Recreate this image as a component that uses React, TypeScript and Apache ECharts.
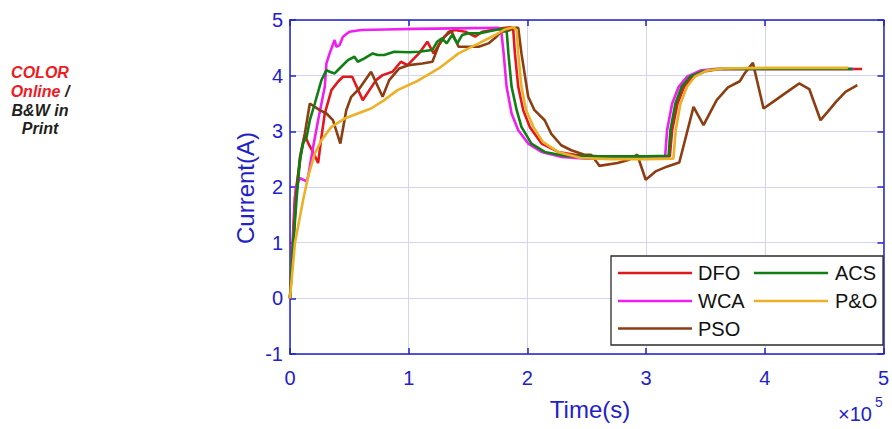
import React, { useEffect, useRef } from "react";
import * as echarts from "echarts";

// Time in units of 1e5 s, current in A
const xTicks = [0, 1, 2, 3, 4, 5];
const yTicks = [-1, 0, 1, 2, 3, 4, 5];

const dfoT = [0, 0.04, 0.097, 0.125, 0.153, 0.2, 0.237, 0.265, 0.293, 0.349, 0.404, 0.446, 0.524, 0.613, 0.725, 0.78, 0.864, 0.934, 0.99, 1.087, 1.157, 1.21, 1.28, 1.338, 1.39, 1.477, 1.56, 1.62, 1.7, 1.78, 1.86, 1.88, 1.895, 1.923, 1.965, 2.02, 2.12, 2.26, 2.4, 2.6, 3.0, 3.2, 3.22, 3.265, 3.32, 3.39, 3.5, 3.62, 4.0, 4.82];
const dfoV = [0, 1.8, 2.66, 2.93, 2.79, 2.6, 2.43, 2.9, 3.32, 3.74, 3.89, 3.98, 3.98, 3.56, 3.92, 4.01, 4.07, 4.25, 4.19, 4.4, 4.61, 4.4, 4.64, 4.79, 4.82, 4.79, 4.7, 4.79, 4.82, 4.85, 4.87, 4.85, 4.4, 3.8, 3.38, 3.08, 2.78, 2.63, 2.58, 2.55, 2.55, 2.55, 3.02, 3.5, 3.8, 3.98, 4.08, 4.12, 4.12, 4.12];

const wcaT = [0, 0.05, 0.084, 0.14, 0.153, 0.195, 0.237, 0.293, 0.307, 0.334, 0.376, 0.39, 0.418, 0.446, 0.5, 0.6, 0.8, 1.045, 1.4, 1.76, 1.78, 1.8, 1.825, 1.867, 1.923, 2.007, 2.12, 2.29, 2.5, 3.0, 3.16, 3.177, 3.22, 3.275, 3.345, 3.456, 3.57, 4.0, 4.75];
const wcaV = [0, 2.0, 2.16, 2.1, 2.19, 2.72, 3.2, 3.8, 4.22, 4.4, 4.64, 4.52, 4.55, 4.7, 4.79, 4.82, 4.83, 4.84, 4.85, 4.86, 4.8, 4.4, 3.8, 3.32, 3.02, 2.78, 2.63, 2.54, 2.51, 2.51, 2.52, 3.02, 3.5, 3.8, 3.98, 4.09, 4.12, 4.12, 4.12];

const psoT = [0, 0.05, 0.084, 0.125, 0.167, 0.25, 0.307, 0.362, 0.424, 0.474, 0.516, 0.585, 0.683, 0.78, 0.836, 0.92, 1.003, 1.115, 1.2, 1.254, 1.3, 1.36, 1.42, 1.505, 1.59, 1.672, 1.74, 1.78, 1.83, 1.895, 1.923, 1.95, 2.007, 2.06, 2.146, 2.2, 2.285, 2.37, 2.48, 2.536, 2.59, 2.606, 2.76, 2.857, 2.926, 2.997, 3.08, 3.18, 3.28, 3.4, 3.484, 3.595, 3.69, 3.79, 3.83, 3.9, 3.99, 4.07, 4.15, 4.21, 4.29, 4.375, 4.47, 4.53, 4.6, 4.68, 4.78];
const psoV = [0, 1.8, 2.54, 2.96, 3.5, 3.38, 3.32, 3.2, 2.78, 3.38, 3.62, 3.77, 4.07, 3.62, 3.92, 4.13, 4.19, 4.22, 4.25, 4.55, 4.7, 4.8, 4.52, 4.52, 4.52, 4.58, 4.7, 4.79, 4.8, 4.86, 4.86, 4.4, 3.62, 3.38, 3.2, 2.96, 2.75, 2.66, 2.58, 2.58, 2.43, 2.38, 2.43, 2.49, 2.58, 2.13, 2.28, 2.37, 2.44, 3.44, 3.11, 3.56, 3.79, 3.9, 4.04, 4.23, 3.41, 3.53, 3.65, 3.74, 3.86, 3.76, 3.2, 3.35, 3.53, 3.71, 3.83];

const acsT = [0, 0.015, 0.056, 0.084, 0.111, 0.14, 0.167, 0.209, 0.265, 0.307, 0.334, 0.376, 0.432, 0.488, 0.543, 0.571, 0.627, 0.697, 0.738, 0.794, 0.878, 1.0, 1.087, 1.198, 1.24, 1.28, 1.32, 1.366, 1.41, 1.45, 1.505, 1.59, 1.66, 1.75, 1.81, 1.825, 1.84, 1.867, 1.91, 1.95, 2.034, 2.145, 2.31, 2.5, 3.0, 3.19, 3.205, 3.247, 3.3, 3.37, 3.48, 3.595, 4.0, 4.74];
const acsV = [0, 0.6, 1.8, 2.49, 2.79, 2.9, 3.2, 3.5, 3.92, 4.1, 4.07, 4.04, 4.16, 4.28, 4.34, 4.25, 4.31, 4.4, 4.37, 4.37, 4.43, 4.42, 4.43, 4.46, 4.61, 4.67, 4.58, 4.73, 4.58, 4.73, 4.76, 4.76, 4.79, 4.83, 4.84, 4.82, 4.4, 3.8, 3.38, 3.08, 2.78, 2.63, 2.56, 2.55, 2.55, 2.56, 3.02, 3.5, 3.8, 3.98, 4.08, 4.12, 4.12, 4.12];

const poT = [0, 0.042, 0.111, 0.153, 0.209, 0.265, 0.349, 0.46, 0.571, 0.683, 0.794, 0.906, 1.06, 1.254, 1.42, 1.59, 1.728, 1.81, 1.88, 1.91, 1.923, 1.95, 1.99, 2.05, 2.13, 2.26, 2.45, 2.7, 3.0, 3.23, 3.25, 3.29, 3.345, 3.41, 3.51, 3.65, 4.0, 4.7];
const poV = [0, 1.0, 1.77, 2.19, 2.6, 2.84, 3.08, 3.23, 3.32, 3.41, 3.56, 3.74, 3.89, 4.13, 4.4, 4.58, 4.73, 4.83, 4.87, 4.82, 4.4, 3.8, 3.38, 3.08, 2.81, 2.63, 2.52, 2.5, 2.5, 2.51, 3.02, 3.5, 3.8, 3.98, 4.09, 4.13, 4.14, 4.14];

const seriesNames = ["DFO", "WCA", "PSO", "ACS", "P&O"];
const seriesColors = ["#e3181c", "#f01ef0", "#8c3e12", "#0f7f14", "#ecb127"];
const seriesT = [dfoT, wcaT, psoT, acsT, poT];
const seriesV = [dfoV, wcaV, psoV, acsV, poV];

const BLUE = "#1f22c8";
const FONT = "'Liberation Sans', Arial, Helvetica, sans-serif";

export default function App() {
  const ref = useRef<HTMLDivElement>(null);
  useEffect(() => {
    if (!ref.current) return;
    const chart = echarts.init(ref.current, undefined, { renderer: "svg" });

    const series = seriesNames.map((name, i) => ({
      name,
      type: "line",
      xAxisIndex: 0,
      yAxisIndex: 0,
      data: seriesT[i].map((t, k) => [t, seriesV[i][k]]),
      showSymbol: false,
      symbol: "none",
      lineStyle: { color: seriesColors[i], width: 2.6 },
      itemStyle: { color: seriesColors[i] },
      z: 2 + i,
    }));

    // legend (MATLAB-like two-column box)
    const legX = 611, legY = 256, legW = 272, legH = 89;
    const colLineX = [618, 754];
    const colTextX = [698, 835];
    const rowY = [273, 301, 328.5];
    const legendEls: any[] = [
      {
        type: "rect",
        shape: { x: legX, y: legY, width: legW, height: legH },
        style: { fill: "#ffffff", stroke: "#2b2b2b", lineWidth: 1.3 },
        z: 100,
      },
    ];
    seriesNames.forEach((name, i) => {
      const col = i < 3 ? 0 : 1;
      const row = i < 3 ? i : i - 3;
      legendEls.push({
        type: "line",
        shape: { x1: colLineX[col], y1: rowY[row], x2: colLineX[col] + 74, y2: rowY[row] },
        style: { stroke: seriesColors[i], lineWidth: 2.6 },
        z: 101,
      });
      legendEls.push({
        type: "text",
        x: colTextX[col],
        y: rowY[row],
        style: {
          text: name,
          fill: "#111111",
          font: `20px ${FONT}`,
          align: "left",
          verticalAlign: "middle",
        },
        z: 101,
      });
    });

    const noteFont = `italic bold 16px ${FONT}`;
    const noteLines = [
      { text: "{r|COLOR}", y: 72.5 },
      { text: "{r|Online} {k|/}", y: 91.3 },
      { text: "{k|B&W in}", y: 110 },
      { text: "{k|Print}", y: 128.6 },
    ];
    const noteEls = noteLines.map((l) => ({
      type: "text",
      x: 40,
      y: l.y,
      style: {
        text: l.text,
        font: noteFont,
        align: "center",
        verticalAlign: "middle",
        rich: {
          r: { fill: "#ed1c24", font: noteFont },
          k: { fill: "#231f20", font: noteFont },
        },
      },
    }));

    const option: any = {
      animation: false,
      textStyle: { fontFamily: FONT },
      grid: { left: 290, right: 4, top: 20, bottom: 75, containLabel: false },
      xAxis: [
        {
          type: "value",
          min: 0,
          max: 5,
          interval: 1,
          position: "bottom",
          axisLine: { show: true, onZero: false, lineStyle: { color: BLUE, width: 1.5 } },
          axisTick: { show: true, inside: true, length: 6, lineStyle: { color: BLUE, width: 1.5 } },
          axisLabel: {
            color: BLUE,
            fontSize: 20,
            margin: 14,
            fontFamily: FONT,
            formatter: (v: number) => (xTicks.includes(v) ? String(v) : ""),
          },
          splitLine: { show: true, lineStyle: { color: "#d4d4f2", width: 1 } },
        },
        {
          type: "value",
          min: 0,
          max: 5,
          interval: 1,
          position: "top",
          axisLine: { show: true, onZero: false, lineStyle: { color: BLUE, width: 1.5 } },
          axisTick: { show: true, inside: true, length: 6, lineStyle: { color: BLUE, width: 1.5 } },
          axisLabel: { show: false },
          splitLine: { show: false },
        },
      ],
      yAxis: [
        {
          type: "value",
          min: -1,
          max: 5,
          interval: 1,
          position: "left",
          axisLine: { show: true, onZero: false, lineStyle: { color: BLUE, width: 1.5 } },
          axisTick: { show: true, inside: true, length: 6, lineStyle: { color: BLUE, width: 1.5 } },
          axisLabel: {
            color: BLUE,
            fontSize: 20,
            margin: 7,
            fontFamily: FONT,
            formatter: (v: number) => (yTicks.includes(v) ? String(v) : ""),
          },
          splitLine: { show: true, lineStyle: { color: "#d4d4f2", width: 1 } },
        },
        {
          type: "value",
          min: -1,
          max: 5,
          interval: 1,
          position: "right",
          axisLine: { show: true, onZero: false, lineStyle: { color: BLUE, width: 1.5 } },
          axisTick: { show: true, inside: true, length: 6, lineStyle: { color: BLUE, width: 1.5 } },
          axisLabel: { show: false },
          splitLine: { show: false },
        },
      ],
      series,
      graphic: [
        {
          type: "text",
          x: 245,
          y: 188,
          rotation: Math.PI / 2,
          style: {
            text: "Current(A)",
            fill: BLUE,
            font: `24px ${FONT}`,
            align: "center",
            verticalAlign: "middle",
          },
        },
        {
          type: "text",
          x: 590,
          y: 409,
          style: {
            text: "Time(s)",
            fill: BLUE,
            font: `24px ${FONT}`,
            align: "center",
            verticalAlign: "middle",
          },
        },
        {
          type: "text",
          x: 838,
          y: 414,
          style: {
            text: "×10",
            fill: BLUE,
            font: `20px ${FONT}`,
            align: "left",
            verticalAlign: "middle",
          },
        },
        {
          type: "text",
          x: 875,
          y: 402,
          style: {
            text: "5",
            fill: BLUE,
            font: `14px ${FONT}`,
            align: "left",
            verticalAlign: "middle",
          },
        },
        ...noteEls,
        ...legendEls,
      ],
    };
    chart.setOption(option);
    return () => chart.dispose();
  }, []);

  return (
    <div
      ref={ref}
      style={{ position: "fixed", left: 0, top: 0, width: 892, height: 429, background: "#ffffff" }}
    />
  );
}
